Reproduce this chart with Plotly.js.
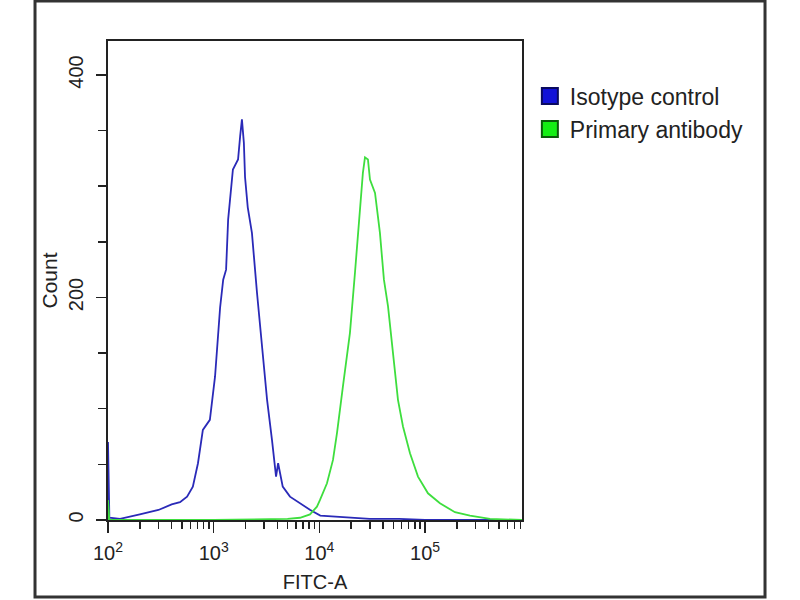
<!DOCTYPE html>
<html>
<head>
<meta charset="utf-8">
<script src="https://cdn.plot.ly/plotly-3.0.1.min.js"></script>
<style>
  body { margin: 0; background: #fff; }
  #chart { width: 800px; height: 600px; }
</style>
</head>
<body>
<div id="chart"></div>
<script>
// FITC-A histogram values (x in FITC units, y = count)
const isotypeX = [100, 100, 103, 130, 200, 300, 400, 480, 560, 635, 710, 790, 920, 1030, 1150, 1230, 1310, 1370, 1520, 1700, 1780, 1850, 1930, 1980, 2100, 2300, 2570, 2870, 3200, 3560, 3890, 4070, 4500, 5270, 6590, 8200, 10200, 14000, 19500, 30000, 57000, 100000, 826000];
const isotypeY = [0, 70, 2, 1, 5, 9, 14, 16, 21, 30, 51, 81, 90, 129, 191, 216, 225, 270, 315, 324, 345, 360, 339, 308, 281, 258, 204, 153, 108, 72, 39, 51, 30, 21, 15, 9, 4, 3, 2, 1, 1, 0, 0];

const primaryX = [100, 100, 103, 1000, 5000, 6550, 8150, 9480, 10140, 11800, 13450, 14670, 16700, 19450, 21700, 24200, 25800, 27000, 28800, 30100, 33600, 37400, 40800, 44600, 49700, 55400, 61800, 72000, 85700, 106500, 138300, 191800, 266000, 411000, 826000];
const primaryY = [0, 18, 0, 0, 1, 2, 5, 12, 18, 33, 54, 78, 120, 168, 222, 276, 312, 326, 324, 306, 294, 258, 216, 192, 150, 108, 84, 60, 39, 24, 15, 7, 4, 1, 0];

const seriesNames = ['Isotype control', 'Primary antibody'];
const lineColors = ['#2a2ab8', '#3ede3e'];
const swatchColors = ['#1212d8', '#14ee14'];
const swatchBorders = ['#0a0a60', '#0a5a0a'];

const xTickVals = [100, 1000, 10000, 100000];
const xTickText = ['10<sup>2</sup>', '10<sup>3</sup>', '10<sup>4</sup>', '10<sup>5</sup>'];
const yTickVals = [0, 200, 400];

const traces = [
    {
        x: isotypeX, y: isotypeY, type: 'scatter', mode: 'lines',
        line: { color: lineColors[0], width: 1.8 }, showlegend: false
    },
    {
        x: primaryX, y: primaryY, type: 'scatter', mode: 'lines',
        line: { color: lineColors[1], width: 1.8 }, showlegend: false
    }
];

// legend swatches only
seriesNames.forEach(function(name, i) {
    traces.push({
        x: [null], y: [null], type: 'scatter', mode: 'markers', name: name,
        marker: { symbol: 'square', size: 16, color: swatchColors[i], line: { color: swatchBorders[i], width: 2 } }
    });
});

const layout = {
    width: 800,
    height: 600,
    margin: { l: 108, r: 278, t: 41, b: 80 },
    paper_bgcolor: '#fff',
    plot_bgcolor: '#fff',
    font: { family: 'Liberation Sans, Arial, sans-serif', color: '#222' },
    xaxis: {
        type: 'log',
        range: [2, 5.917],
        tickmode: 'array',
        tickvals: xTickVals,
        ticktext: xTickText,
        ticks: 'outside',
        ticklen: 11,
        tickwidth: 1.5,
        tickcolor: '#222',
        minor: { ticks: 'outside', ticklen: 7, tickwidth: 1.5, tickcolor: '#222', dtick: 'D1' },
        tickfont: { size: 20 },
        ticklabelstandoff: 3,
        showgrid: false,
        zeroline: false,
        showline: true,
        mirror: true,
        linecolor: '#222',
        linewidth: 2,
        title: { text: 'FITC-A', font: { size: 20 }, standoff: 12 }
    },
    yaxis: {
        range: [0, 430.5],
        tickmode: 'array',
        tickvals: yTickVals,
        ticks: 'outside',
        ticklen: 10,
        tickwidth: 1.5,
        tickcolor: '#222',
        minor: { ticks: 'outside', ticklen: 8, tickwidth: 1.5, tickcolor: '#222', dtick: 50 },
        tickangle: -90,
        tickfont: { size: 20 },
        ticklabelstandoff: 5,
        showgrid: false,
        zeroline: false,
        showline: true,
        mirror: true,
        linecolor: '#222',
        linewidth: 2,
        title: { text: 'Count', font: { size: 21 }, standoff: 2 }
    },
    legend: {
        x: 1.019, y: 0.93, xanchor: 'left', yanchor: 'top',
        font: { size: 23, color: '#222' },
        bgcolor: 'rgba(0,0,0,0)'
    },
    shapes: [{
        type: 'rect', xref: 'paper', yref: 'paper',
        x0: -0.1763, x1: 1.587, y0: -0.1608, y1: 1.0835,
        line: { color: '#333', width: 3 }
    }]
};

Plotly.newPlot('chart', traces, layout, { displayModeBar: false, staticPlot: true });
</script>
</body>
</html>
